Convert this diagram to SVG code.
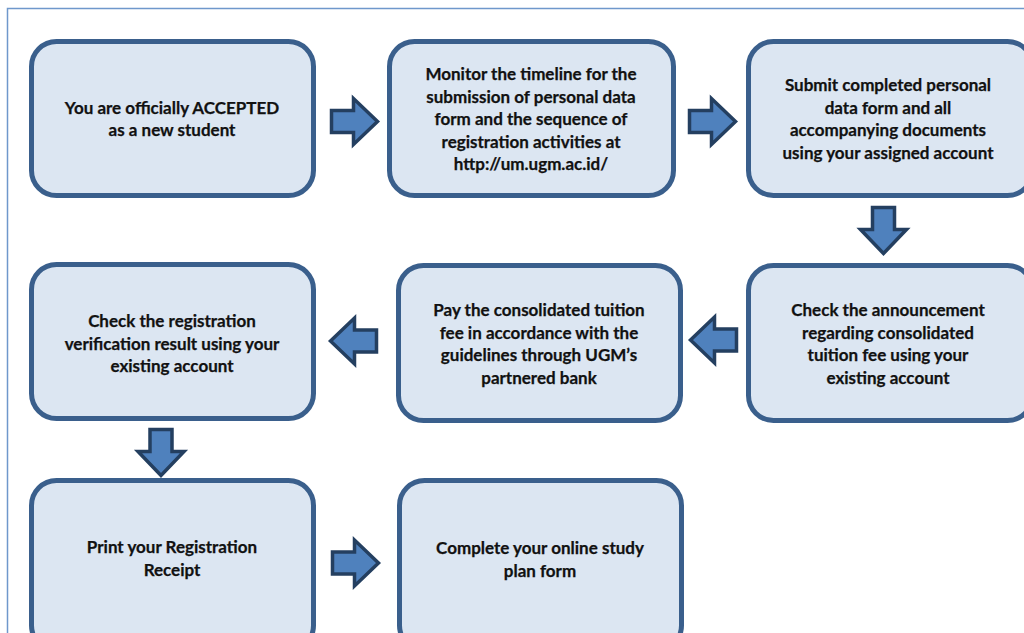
<svg xmlns="http://www.w3.org/2000/svg" width="1024" height="633" viewBox="0 0 1024 633">
<defs>
<style>
.box{fill:#dce6f2;stroke:#3a5f8c;stroke-width:5}
.arr{fill:#4f81bd;stroke:#243f60;stroke-width:3.5;stroke-linejoin:miter}
.t{font-family:Lato,"Open Sans","Liberation Sans",sans-serif;font-weight:bold;font-size:17px;fill:#111;stroke:#111;stroke-width:0.25;text-anchor:middle}
</style>
<path id="ra" d="M0,-11 H22 V-23 L46,0 L22,23 V11 H0 Z"/>
</defs>
<rect width="1024" height="633" fill="#ffffff"/>
<path d="M7.5,640 V8.5 H1030" fill="none" stroke="#6f98cc" stroke-width="1.5"/>

<g id="n1"><rect class="box" x="31.5" y="41.5" width="282" height="154" rx="25"/>
<text class="t"><tspan x="172" y="114">You are officially ACCEPTED</tspan><tspan x="172" y="136">as a new student</tspan></text></g>

<g id="n2"><rect class="box" x="389.5" y="41.5" width="284" height="154" rx="25"/>
<text class="t"><tspan x="531" y="80">Monitor the timeline for the</tspan><tspan x="531" y="102.5">submission of personal data</tspan><tspan x="531" y="125">form and the sequence of</tspan><tspan x="531" y="147.5">registration activities at</tspan><tspan x="531" y="170">http://um.ugm.ac.id/</tspan></text></g>

<g id="n3"><rect class="box" x="748.5" y="41.5" width="284" height="154" rx="25"/>
<text class="t"><tspan x="888" y="91">Submit completed personal</tspan><tspan x="888" y="113.5">data form and all</tspan><tspan x="888" y="136">accompanying documents</tspan><tspan x="888" y="158.5">using your assigned account</tspan></text></g>

<g id="n4"><rect class="box" x="31.5" y="264.5" width="282" height="154" rx="25"/>
<text class="t"><tspan x="172" y="327">Check the registration</tspan><tspan x="172" y="349.5">verification result using your</tspan><tspan x="172" y="372">existing account</tspan></text></g>

<g id="n5"><rect class="box" x="398.5" y="265.5" width="282" height="155" rx="25"/>
<text class="t"><tspan x="539" y="316">Pay the consolidated tuition</tspan><tspan x="539" y="338.5">fee in accordance with the</tspan><tspan x="539" y="361">guidelines through UGM’s</tspan><tspan x="539" y="383.5">partnered bank</tspan></text></g>

<g id="n6"><rect class="box" x="748.5" y="265.5" width="284" height="155" rx="25"/>
<text class="t"><tspan x="888" y="316">Check the announcement</tspan><tspan x="888" y="338.5">regarding consolidated</tspan><tspan x="888" y="361">tuition fee using your</tspan><tspan x="888" y="383.5">existing account</tspan></text></g>

<g id="n7"><rect class="box" x="31.5" y="480.5" width="282" height="170" rx="25"/>
<text class="t"><tspan x="172" y="553">Print your Registration</tspan><tspan x="172" y="575.5">Receipt</tspan></text></g>

<g id="n8"><rect class="box" x="399.5" y="480.5" width="282" height="170" rx="25"/>
<text class="t"><tspan x="540" y="554">Complete your online study</tspan><tspan x="540" y="576.5">plan form</tspan></text></g>

<g id="connectors">
<use href="#ra" class="arr" transform="translate(331.5,121.5)"/>
<use href="#ra" class="arr" transform="translate(689.5,121.5)"/>
<use href="#ra" class="arr" transform="translate(883.5,207.5) rotate(90)"/>
<use href="#ra" class="arr" transform="translate(736.5,340) scale(-1,1)"/>
<use href="#ra" class="arr" transform="translate(376.5,341) scale(-1,1)"/>
<use href="#ra" class="arr" transform="translate(161,429.5) rotate(90)"/>
<use href="#ra" class="arr" transform="translate(332.5,563)"/>
</g>
</svg>
